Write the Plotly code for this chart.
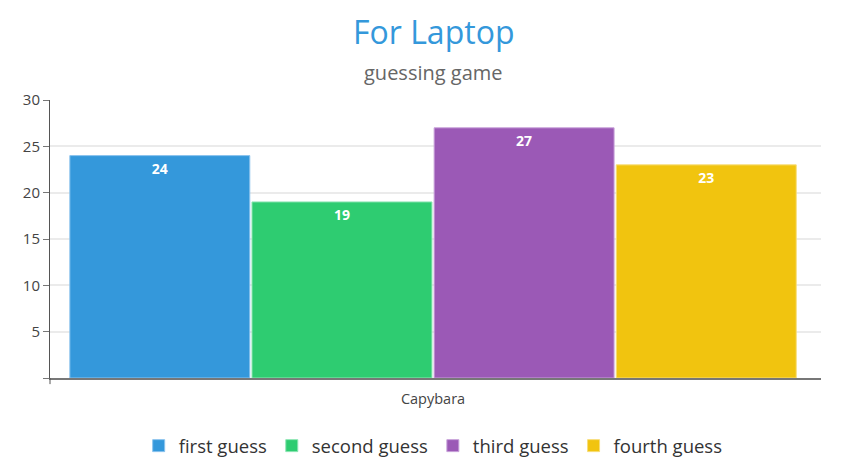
import plotly.graph_objects as go

categories = ["Capybara"]
series_names = ["first guess", "second guess", "third guess", "fourth guess"]
series_values = [[24], [19], [27], [23]]
colors = ["#3498db", "#2ecc71", "#9b59b6", "#f1c40f"]
edge_colors = ["#8cc4ee", "#8ee6b4", "#c9a3da", "#f7dd7a"]
y_tickvals = [0, 5, 10, 15, 20, 25, 30]
y_ticktext = ["", "5", "10", "15", "20", "25", "30"]
title_text = "For Laptop"
subtitle_text = "guessing game"

fig = go.Figure()
for name, vals, c, ec in zip(series_names, series_values, colors, edge_colors):
    fig.add_trace(go.Bar(
        x=categories, y=vals, name=name,
        marker=dict(color=c, line=dict(color=ec, width=1)),
        text=[str(v) for v in vals], textposition="inside",
        insidetextanchor="end",
        textfont=dict(color="white", size=14, family="Open Sans", weight="bold"),
        textangle=0,
    ))

# the page body adds an 8px offset, so the figure is 8px smaller and shifted
fig.update_layout(
    width=858, height=453,
    margin=dict(l=42, r=45, t=92, b=83, autoexpand=False),
    paper_bgcolor="white", plot_bgcolor="white",
    font=dict(family="Open Sans", color="#444"),
    barmode="group", bargap=0.055, bargroupgap=0.012,
    legend=dict(
        orientation="h", x=0.497, xanchor="center", y=-0.245, yanchor="middle",
        font=dict(size=18.5, color="#333", family="Open Sans"),
    ),
    showlegend=True,
    annotations=[
        dict(text=title_text, xref="paper", yref="paper", x=0.497, y=1.245,
             xanchor="center", yanchor="middle", showarrow=False,
             font=dict(size=32, color="#3498db", family="Open Sans")),
        dict(text=subtitle_text, xref="paper", yref="paper", x=0.497, y=1.10,
             xanchor="center", yanchor="middle", showarrow=False,
             font=dict(size=20, color="#666", family="Open Sans")),
    ],
)
fig.update_xaxes(
    range=[-0.4968, 0.5032],
    showline=True, linecolor="#777", linewidth=1.5,
    showgrid=False, ticks="", automargin=False,
    ticklabelstandoff=7,
    tickfont=dict(size=14.5, color="#444"),
)
fig.update_yaxes(
    range=[0, 30], tickvals=y_tickvals, ticktext=y_ticktext,
    showline=True, linecolor="#555", linewidth=1, automargin=False,
    ticks="outside", ticklen=6, tickcolor="#777",
    gridcolor="#ebebeb", gridwidth=1.5, zeroline=False,
    tickfont=dict(size=15, color="#444"),
)
fig.add_shape(type="line", xref="paper", yref="paper",
              x0=0, x1=0, y0=0, y1=-0.022,
              line=dict(color="#555", width=1))
fig.write_html("out.html")
